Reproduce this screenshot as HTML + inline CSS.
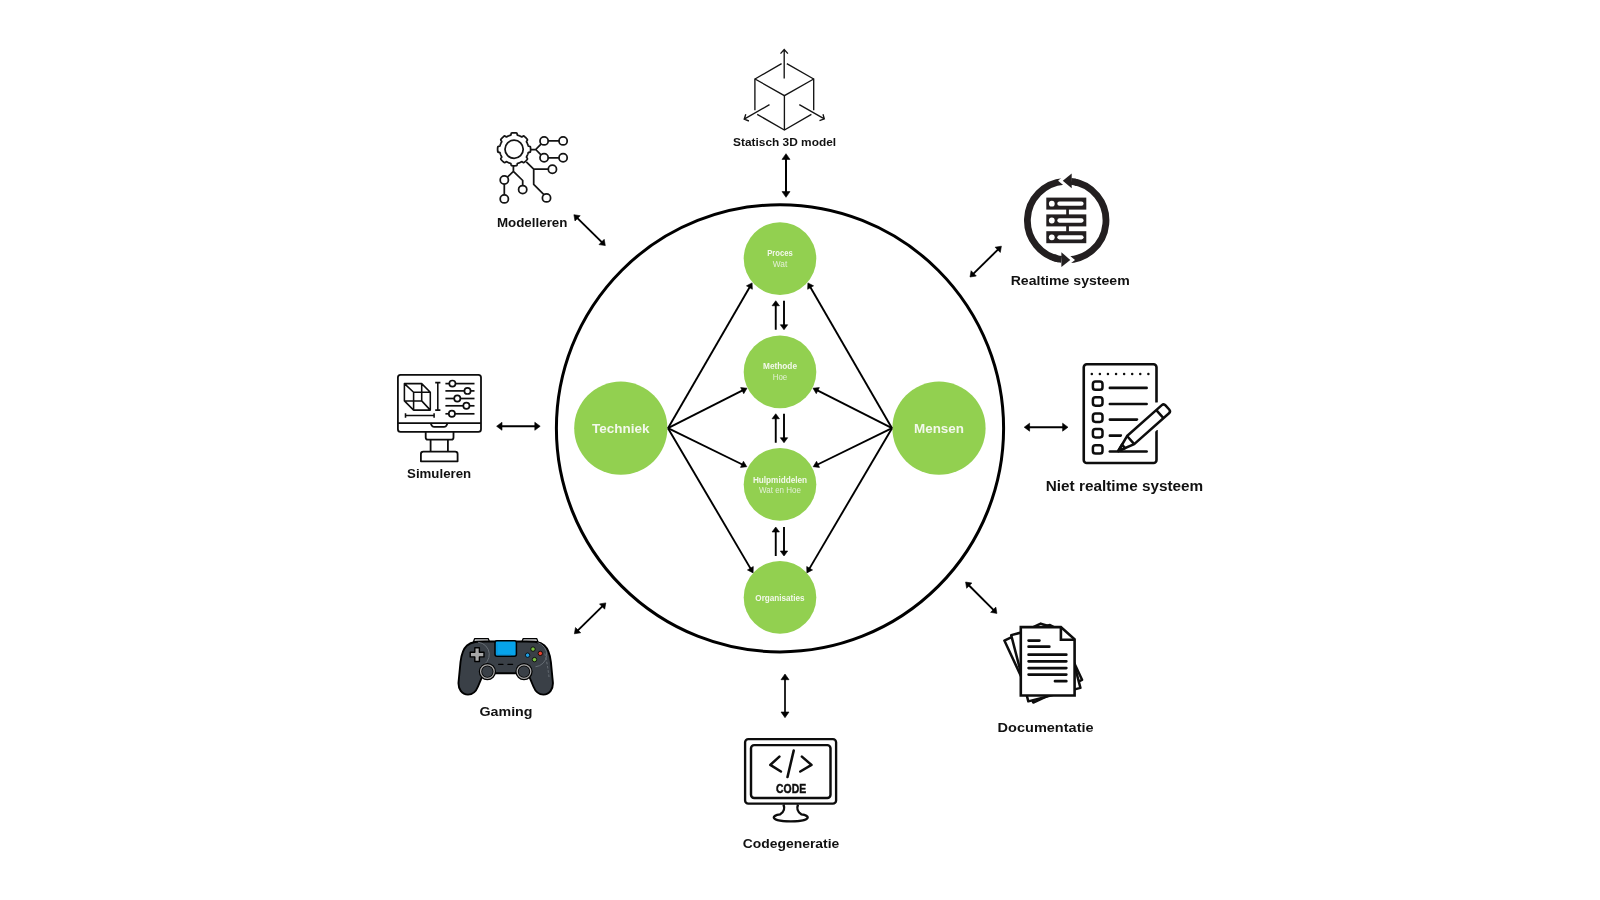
<!DOCTYPE html>
<html><head><meta charset="utf-8"><style>
html,body{margin:0;padding:0;background:#fff;width:1600px;height:900px;overflow:hidden}
svg{display:block;will-change:transform}
text{font-family:"Liberation Sans", sans-serif}
</style></head><body>
<svg width="1600" height="900" viewBox="0 0 1600 900">
<rect width="1600" height="900" fill="#fff"/>
<circle cx="780" cy="428.3" r="223.6" fill="none" stroke="#000" stroke-width="3"/><circle cx="780" cy="258.6" r="36.3" fill="#92d050"/><circle cx="780" cy="371.9" r="36.3" fill="#92d050"/><circle cx="780" cy="484.4" r="36.3" fill="#92d050"/><circle cx="780" cy="597.4" r="36.3" fill="#92d050"/><circle cx="620.8" cy="428.2" r="46.6" fill="#92d050"/><circle cx="939" cy="428.2" r="46.6" fill="#92d050"/><line x1="668.00" y1="428.20" x2="749.90" y2="286.71" stroke="#000" stroke-width="1.9"/><polygon points="752.10,282.90 752.34,289.28 746.45,285.87" fill="#000" stroke="#000" stroke-width="0.6" stroke-linejoin="round"/><line x1="892.00" y1="428.20" x2="810.10" y2="286.71" stroke="#000" stroke-width="1.9"/><polygon points="807.90,282.90 813.55,285.87 807.66,289.28" fill="#000" stroke="#000" stroke-width="0.6" stroke-linejoin="round"/><line x1="668.00" y1="428.20" x2="743.07" y2="390.19" stroke="#000" stroke-width="1.9"/><polygon points="747.00,388.20 743.72,393.67 740.65,387.61" fill="#000" stroke="#000" stroke-width="0.6" stroke-linejoin="round"/><line x1="892.00" y1="428.20" x2="816.93" y2="390.19" stroke="#000" stroke-width="1.9"/><polygon points="813.00,388.20 819.35,387.61 816.28,393.67" fill="#000" stroke="#000" stroke-width="0.6" stroke-linejoin="round"/><line x1="668.00" y1="428.20" x2="742.85" y2="464.77" stroke="#000" stroke-width="1.9"/><polygon points="746.80,466.70 740.46,467.38 743.44,461.27" fill="#000" stroke="#000" stroke-width="0.6" stroke-linejoin="round"/><line x1="892.00" y1="428.20" x2="817.15" y2="464.77" stroke="#000" stroke-width="1.9"/><polygon points="813.20,466.70 816.56,461.27 819.54,467.38" fill="#000" stroke="#000" stroke-width="0.6" stroke-linejoin="round"/><line x1="668.00" y1="428.20" x2="750.87" y2="569.11" stroke="#000" stroke-width="1.9"/><polygon points="753.10,572.90 747.43,569.97 753.29,566.52" fill="#000" stroke="#000" stroke-width="0.6" stroke-linejoin="round"/><line x1="892.00" y1="428.20" x2="809.13" y2="569.11" stroke="#000" stroke-width="1.9"/><polygon points="806.90,572.90 806.71,566.52 812.57,569.97" fill="#000" stroke="#000" stroke-width="0.6" stroke-linejoin="round"/><line x1="775.75" y1="329.75" x2="775.75" y2="304.75" stroke="#000" stroke-width="1.9"/><polygon points="775.75,300.75 779.45,305.75 772.05,305.75" fill="#000" stroke="#000" stroke-width="0.6" stroke-linejoin="round"/><line x1="784.00" y1="300.75" x2="784.00" y2="325.75" stroke="#000" stroke-width="1.9"/><polygon points="784.00,329.75 780.30,324.75 787.70,324.75" fill="#000" stroke="#000" stroke-width="0.6" stroke-linejoin="round"/><line x1="775.75" y1="442.75" x2="775.75" y2="417.75" stroke="#000" stroke-width="1.9"/><polygon points="775.75,413.75 779.45,418.75 772.05,418.75" fill="#000" stroke="#000" stroke-width="0.6" stroke-linejoin="round"/><line x1="784.00" y1="413.75" x2="784.00" y2="438.75" stroke="#000" stroke-width="1.9"/><polygon points="784.00,442.75 780.30,437.75 787.70,437.75" fill="#000" stroke="#000" stroke-width="0.6" stroke-linejoin="round"/><line x1="775.75" y1="556.00" x2="775.75" y2="531.00" stroke="#000" stroke-width="1.9"/><polygon points="775.75,527.00 779.45,532.00 772.05,532.00" fill="#000" stroke="#000" stroke-width="0.6" stroke-linejoin="round"/><line x1="784.00" y1="527.00" x2="784.00" y2="552.00" stroke="#000" stroke-width="1.9"/><polygon points="784.00,556.00 780.30,551.00 787.70,551.00" fill="#000" stroke="#000" stroke-width="0.6" stroke-linejoin="round"/><line x1="786.00" y1="158.40" x2="786.00" y2="192.60" stroke="#000" stroke-width="2"/><polygon points="786.00,197.30 782.00,191.60 790.00,191.60" fill="#000" stroke="#000" stroke-width="0.6" stroke-linejoin="round"/><polygon points="786.00,153.70 782.00,159.40 790.00,159.40" fill="#000" stroke="#000" stroke-width="0.6" stroke-linejoin="round"/><line x1="785.00" y1="678.70" x2="785.00" y2="713.00" stroke="#000" stroke-width="1.7"/><polygon points="785.00,717.70 781.00,712.00 789.00,712.00" fill="#000" stroke="#000" stroke-width="0.6" stroke-linejoin="round"/><polygon points="785.00,674.00 781.00,679.70 789.00,679.70" fill="#000" stroke="#000" stroke-width="0.6" stroke-linejoin="round"/><line x1="501.00" y1="426.25" x2="535.80" y2="426.25" stroke="#000" stroke-width="2.2"/><polygon points="540.20,426.25 534.80,430.25 534.80,422.25" fill="#000" stroke="#000" stroke-width="0.6" stroke-linejoin="round"/><polygon points="496.60,426.25 502.00,430.25 502.00,422.25" fill="#000" stroke="#000" stroke-width="0.6" stroke-linejoin="round"/><line x1="1028.60" y1="427.20" x2="1063.60" y2="427.20" stroke="#000" stroke-width="2"/><polygon points="1068.00,427.20 1062.60,431.20 1062.60,423.20" fill="#000" stroke="#000" stroke-width="0.6" stroke-linejoin="round"/><polygon points="1024.20,427.20 1029.60,431.20 1029.60,423.20" fill="#000" stroke="#000" stroke-width="0.6" stroke-linejoin="round"/><line x1="576.89" y1="217.65" x2="602.31" y2="242.65" stroke="#000" stroke-width="1.9"/><polygon points="605.30,245.60 599.00,244.59 604.19,239.32" fill="#000" stroke="#000" stroke-width="0.6" stroke-linejoin="round"/><polygon points="573.90,214.70 575.01,220.98 580.20,215.71" fill="#000" stroke="#000" stroke-width="0.6" stroke-linejoin="round"/><line x1="998.40" y1="249.14" x2="973.00" y2="274.06" stroke="#000" stroke-width="1.9"/><polygon points="970.00,277.00 971.12,270.72 976.30,276.00" fill="#000" stroke="#000" stroke-width="0.6" stroke-linejoin="round"/><polygon points="1001.40,246.20 995.10,247.20 1000.28,252.48" fill="#000" stroke="#000" stroke-width="0.6" stroke-linejoin="round"/><line x1="602.81" y1="605.85" x2="577.39" y2="630.85" stroke="#000" stroke-width="1.9"/><polygon points="574.40,633.80 575.51,627.52 580.70,632.79" fill="#000" stroke="#000" stroke-width="0.6" stroke-linejoin="round"/><polygon points="605.80,602.90 599.50,603.91 604.69,609.18" fill="#000" stroke="#000" stroke-width="0.6" stroke-linejoin="round"/><line x1="968.57" y1="584.97" x2="993.93" y2="610.43" stroke="#000" stroke-width="1.9"/><polygon points="996.90,613.40 990.61,612.33 995.85,607.11" fill="#000" stroke="#000" stroke-width="0.6" stroke-linejoin="round"/><polygon points="965.60,582.00 966.65,588.29 971.89,583.07" fill="#000" stroke="#000" stroke-width="0.6" stroke-linejoin="round"/><text x="620.8" y="433.4" font-size="13.6" font-weight="bold" fill="#f3f8ec" text-anchor="middle" textLength="57.5" lengthAdjust="spacingAndGlyphs">Techniek</text><text x="939" y="433.4" font-size="13.6" font-weight="bold" fill="#f3f8ec" text-anchor="middle" textLength="50" lengthAdjust="spacingAndGlyphs">Mensen</text><text x="780" y="255.8" font-size="8.2" font-weight="bold" fill="#f3f8ec" text-anchor="middle" textLength="25.5" lengthAdjust="spacingAndGlyphs">Proces</text><text x="780" y="266.9" font-size="8.2" font-weight="normal" fill="#e3f0d6" text-anchor="middle" textLength="14.5" lengthAdjust="spacingAndGlyphs">Wat</text><text x="780" y="369.2" font-size="8.2" font-weight="bold" fill="#f3f8ec" text-anchor="middle" textLength="34" lengthAdjust="spacingAndGlyphs">Methode</text><text x="780" y="379.9" font-size="8.2" font-weight="normal" fill="#e3f0d6" text-anchor="middle" textLength="14.5" lengthAdjust="spacingAndGlyphs">Hoe</text><text x="780" y="482.7" font-size="8.2" font-weight="bold" fill="#f3f8ec" text-anchor="middle" textLength="54.2" lengthAdjust="spacingAndGlyphs">Hulpmiddelen</text><text x="780" y="493.2" font-size="8.2" font-weight="normal" fill="#e3f0d6" text-anchor="middle" textLength="42" lengthAdjust="spacingAndGlyphs">Wat en Hoe</text><text x="780" y="600.7" font-size="8.2" font-weight="bold" fill="#f3f8ec" text-anchor="middle" textLength="49.3" lengthAdjust="spacingAndGlyphs">Organisaties</text><text x="784.6" y="146.1" font-size="11.8" font-weight="bold" fill="#111" text-anchor="middle" textLength="103" lengthAdjust="spacingAndGlyphs">Statisch 3D model</text><text x="532.2" y="227" font-size="12.4" font-weight="bold" fill="#111" text-anchor="middle" textLength="70.5" lengthAdjust="spacingAndGlyphs">Modelleren</text><text x="1070.2" y="284.8" font-size="13.3" font-weight="bold" fill="#111" text-anchor="middle" textLength="119" lengthAdjust="spacingAndGlyphs">Realtime systeem</text><text x="1124.5" y="490.6" font-size="14.3" font-weight="bold" fill="#111" text-anchor="middle" textLength="157.5" lengthAdjust="spacingAndGlyphs">Niet realtime systeem</text><text x="439.1" y="478" font-size="12.8" font-weight="bold" fill="#111" text-anchor="middle" textLength="64" lengthAdjust="spacingAndGlyphs">Simuleren</text><text x="506" y="716.2" font-size="13" font-weight="bold" fill="#111" text-anchor="middle" textLength="53" lengthAdjust="spacingAndGlyphs">Gaming</text><text x="791" y="847.8" font-size="13" font-weight="bold" fill="#111" text-anchor="middle" textLength="96.5" lengthAdjust="spacingAndGlyphs">Codegeneratie</text><text x="1045.6" y="732.2" font-size="13.4" font-weight="bold" fill="#111" text-anchor="middle" textLength="96" lengthAdjust="spacingAndGlyphs">Documentatie</text>
<g fill="none" stroke="#141414" stroke-width="1.35" stroke-linecap="butt" stroke-linejoin="miter"><path d="M784.2 78.6V49.6M780.5 53.6L784.2 49.6L787.9 53.6"/><path d="M755 79L781.6 63.6M786.8 63.6L813.7 79"/><path d="M755 79L784.4 95.6L813.7 79"/><path d="M754.9 78.4V110.3M813.7 78.4V110.3"/><path d="M784.4 95.6V130"/><path d="M757.2 114.4L784.4 130L811.4 114.4"/><path d="M769.5 104.6L744.2 119.2M745.8 114.3L744.2 119.2L748.9 121"/><path d="M799.3 104.6L824.3 118.9M823 114.3L824.3 118.9L819.5 120.7"/></g><g fill="none" stroke="#141414" stroke-width="1.75" stroke-linejoin="round"><path d="M530.60 149.30 L530.60 149.59 L530.59 149.88 L530.58 150.16 L530.56 150.45 L530.54 150.74 L530.51 151.02 L530.47 151.31 L530.43 151.59 L530.35 151.87 L530.13 152.13 L529.52 152.30 L528.72 152.41 L528.33 152.59 L528.19 152.81 L528.11 153.05 L528.04 153.30 L527.97 153.54 L527.89 153.78 L527.81 154.02 L527.73 154.26 L527.64 154.50 L527.54 154.73 L527.45 154.97 L527.35 155.20 L527.24 155.43 L527.13 155.66 L527.02 155.88 L526.90 156.11 L526.78 156.33 L526.66 156.55 L526.55 156.78 L526.48 157.04 L526.63 157.44 L527.12 158.08 L527.43 158.64 L527.41 158.97 L527.27 159.22 L527.10 159.46 L526.92 159.68 L526.74 159.91 L526.55 160.12 L526.36 160.34 L526.17 160.55 L525.97 160.76 L525.77 160.97 L525.56 161.17 L525.35 161.37 L525.14 161.56 L524.92 161.75 L524.71 161.94 L524.48 162.12 L524.26 162.30 L524.02 162.47 L523.77 162.61 L523.44 162.63 L522.88 162.32 L522.24 161.83 L521.84 161.68 L521.58 161.75 L521.35 161.86 L521.13 161.98 L520.91 162.10 L520.68 162.22 L520.46 162.33 L520.23 162.44 L520.00 162.55 L519.77 162.65 L519.53 162.74 L519.30 162.84 L519.06 162.93 L518.82 163.01 L518.58 163.09 L518.34 163.17 L518.10 163.24 L517.85 163.31 L517.61 163.39 L517.39 163.53 L517.21 163.92 L517.10 164.72 L516.93 165.33 L516.67 165.55 L516.39 165.63 L516.11 165.67 L515.82 165.71 L515.54 165.74 L515.25 165.76 L514.96 165.78 L514.68 165.79 L514.39 165.80 L514.10 165.80 L513.81 165.80 L513.52 165.79 L513.24 165.78 L512.95 165.76 L512.66 165.74 L512.38 165.71 L512.09 165.67 L511.81 165.63 L511.53 165.55 L511.27 165.33 L511.10 164.72 L510.99 163.92 L510.81 163.53 L510.59 163.39 L510.35 163.31 L510.10 163.24 L509.86 163.17 L509.62 163.09 L509.38 163.01 L509.14 162.93 L508.90 162.84 L508.67 162.74 L508.43 162.65 L508.20 162.55 L507.97 162.44 L507.74 162.33 L507.52 162.22 L507.29 162.10 L507.07 161.98 L506.85 161.86 L506.62 161.75 L506.36 161.68 L505.96 161.83 L505.32 162.32 L504.76 162.63 L504.43 162.61 L504.18 162.47 L503.94 162.30 L503.72 162.12 L503.49 161.94 L503.28 161.75 L503.06 161.56 L502.85 161.37 L502.64 161.17 L502.43 160.97 L502.23 160.76 L502.03 160.55 L501.84 160.34 L501.65 160.12 L501.46 159.91 L501.28 159.68 L501.10 159.46 L500.93 159.22 L500.79 158.97 L500.77 158.64 L501.08 158.08 L501.57 157.44 L501.72 157.04 L501.65 156.78 L501.54 156.55 L501.42 156.33 L501.30 156.11 L501.18 155.88 L501.07 155.66 L500.96 155.43 L500.85 155.20 L500.75 154.97 L500.66 154.73 L500.56 154.50 L500.47 154.26 L500.39 154.02 L500.31 153.78 L500.23 153.54 L500.16 153.30 L500.09 153.05 L500.01 152.81 L499.87 152.59 L499.48 152.41 L498.68 152.30 L498.07 152.13 L497.85 151.87 L497.77 151.59 L497.73 151.31 L497.69 151.02 L497.66 150.74 L497.64 150.45 L497.62 150.16 L497.61 149.88 L497.60 149.59 L497.60 149.30 L497.60 149.01 L497.61 148.72 L497.62 148.44 L497.64 148.15 L497.66 147.86 L497.69 147.58 L497.73 147.29 L497.77 147.01 L497.85 146.73 L498.07 146.47 L498.68 146.30 L499.48 146.19 L499.87 146.01 L500.01 145.79 L500.09 145.55 L500.16 145.30 L500.23 145.06 L500.31 144.82 L500.39 144.58 L500.47 144.34 L500.56 144.10 L500.66 143.87 L500.75 143.63 L500.85 143.40 L500.96 143.17 L501.07 142.94 L501.18 142.72 L501.30 142.49 L501.42 142.27 L501.54 142.05 L501.65 141.82 L501.72 141.56 L501.57 141.16 L501.08 140.52 L500.77 139.96 L500.79 139.63 L500.93 139.38 L501.10 139.14 L501.28 138.92 L501.46 138.69 L501.65 138.48 L501.84 138.26 L502.03 138.05 L502.23 137.84 L502.43 137.63 L502.64 137.43 L502.85 137.23 L503.06 137.04 L503.28 136.85 L503.49 136.66 L503.72 136.48 L503.94 136.30 L504.18 136.13 L504.43 135.99 L504.76 135.97 L505.32 136.28 L505.96 136.77 L506.36 136.92 L506.62 136.85 L506.85 136.74 L507.07 136.62 L507.29 136.50 L507.52 136.38 L507.74 136.27 L507.97 136.16 L508.20 136.05 L508.43 135.95 L508.67 135.86 L508.90 135.76 L509.14 135.67 L509.38 135.59 L509.62 135.51 L509.86 135.43 L510.10 135.36 L510.35 135.29 L510.59 135.21 L510.81 135.07 L510.99 134.68 L511.10 133.88 L511.27 133.27 L511.53 133.05 L511.81 132.97 L512.09 132.93 L512.38 132.89 L512.66 132.86 L512.95 132.84 L513.24 132.82 L513.52 132.81 L513.81 132.80 L514.10 132.80 L514.39 132.80 L514.68 132.81 L514.96 132.82 L515.25 132.84 L515.54 132.86 L515.82 132.89 L516.11 132.93 L516.39 132.97 L516.67 133.05 L516.93 133.27 L517.10 133.88 L517.21 134.68 L517.39 135.07 L517.61 135.21 L517.85 135.29 L518.10 135.36 L518.34 135.43 L518.58 135.51 L518.82 135.59 L519.06 135.67 L519.30 135.76 L519.53 135.86 L519.77 135.95 L520.00 136.05 L520.23 136.16 L520.46 136.27 L520.68 136.38 L520.91 136.50 L521.13 136.62 L521.35 136.74 L521.58 136.85 L521.84 136.92 L522.24 136.77 L522.88 136.28 L523.44 135.97 L523.77 135.99 L524.02 136.13 L524.26 136.30 L524.48 136.48 L524.71 136.66 L524.92 136.85 L525.14 137.04 L525.35 137.23 L525.56 137.43 L525.77 137.63 L525.97 137.84 L526.17 138.05 L526.36 138.26 L526.55 138.48 L526.74 138.69 L526.92 138.92 L527.10 139.14 L527.27 139.38 L527.41 139.63 L527.43 139.96 L527.12 140.52 L526.63 141.16 L526.48 141.56 L526.55 141.82 L526.66 142.05 L526.78 142.27 L526.90 142.49 L527.02 142.72 L527.13 142.94 L527.24 143.17 L527.35 143.40 L527.45 143.63 L527.54 143.87 L527.64 144.10 L527.73 144.34 L527.81 144.58 L527.89 144.82 L527.97 145.06 L528.04 145.30 L528.11 145.55 L528.19 145.79 L528.33 146.01 L528.72 146.19 L529.52 146.30 L530.13 146.47 L530.35 146.73 L530.43 147.01 L530.47 147.29 L530.51 147.58 L530.54 147.86 L530.56 148.15 L530.58 148.44 L530.59 148.72 L530.60 149.01Z"/><circle cx="514.1" cy="149.3" r="9.1"/><circle cx="544.1" cy="140.9" r="4.1"/><circle cx="563.1" cy="140.9" r="4.1"/><circle cx="544.1" cy="157.8" r="4.1"/><circle cx="563.1" cy="157.8" r="4.1"/><circle cx="552.4" cy="169.3" r="4.1"/><circle cx="504.3" cy="180" r="4.1"/><circle cx="522.7" cy="189.6" r="4.1"/><circle cx="504.3" cy="198.9" r="4.1"/><circle cx="546.5" cy="197.9" r="4.1"/><path d="M530.5 149.5H535.7L541 144.1M535.7 149.5L541 154.9"/><path d="M547.9 140.9H559.3M547.9 157.8H559.3"/><path d="M526.3 161.8L533.7 169.2H548.6M533.7 169.2V184.4L543.9 194.6"/><path d="M513.4 166V171.3L507.4 177.2M513.4 171.3L522.7 180.5V185.8"/><path d="M504.3 183.8V195.1"/></g><g stroke="#231f20" fill="none" stroke-width="6.8"><path d="M1063.96 181.30A39.3 39.3 0 0 0 1060.55 259.32"/><path d="M1071.15 181.45A39.3 39.3 0 0 1 1063.96 259.70"/></g><polygon points="1062.8,180.7 1071.7,173.5 1071.7,188.2" fill="#231f20" stroke="#fff" stroke-width="6" stroke-linejoin="miter" stroke-miterlimit="4"/><polygon points="1070.3,259.9 1061.4,252.2 1061.4,266.9" fill="#231f20" stroke="#fff" stroke-width="6" stroke-linejoin="miter" stroke-miterlimit="4"/><g stroke="#231f20" fill="none" stroke-width="6.8"><path d="M1071.15 181.45A39.3 39.3 0 0 1 1077.53 182.72"/><path d="M1053.26 257.43A39.3 39.3 0 0 0 1061.50 259.45"/></g><polygon points="1062.8,180.7 1071.7,173.5 1071.7,188.2" fill="#231f20"/><polygon points="1070.3,259.9 1061.4,252.2 1061.4,266.9" fill="#231f20"/><rect x="1046.3" y="197.6" width="40" height="12" fill="#231f20"/><circle cx="1051.8" cy="203.7" r="2.9" fill="#fff"/><rect x="1057.3" y="201.54999999999998" width="26.3" height="4.3" rx="2.15" fill="#fff"/><rect x="1046.3" y="214.4" width="40" height="12" fill="#231f20"/><circle cx="1051.8" cy="220.5" r="2.9" fill="#fff"/><rect x="1057.3" y="218.35" width="26.3" height="4.3" rx="2.15" fill="#fff"/><rect x="1046.3" y="231.2" width="40" height="12" fill="#231f20"/><circle cx="1051.8" cy="237.29999999999998" r="2.9" fill="#fff"/><rect x="1057.3" y="235.14999999999998" width="26.3" height="4.3" rx="2.15" fill="#fff"/><rect x="1066.2" y="209" width="2.7" height="6" fill="#231f20"/><rect x="1066.2" y="225.8" width="2.7" height="6" fill="#231f20"/><g fill="none" stroke="#0d0d0d" stroke-width="2.6" stroke-linecap="round" stroke-linejoin="round"><path d="M1156.5 430V460A3 3 0 0 1 1153.5 463H1086.75A3 3 0 0 1 1083.75 460V367.25A3 3 0 0 1 1086.75 364.25H1153.5A3 3 0 0 1 1156.5 367.25V402.5" stroke-linecap="butt"/><circle cx="1091.80" cy="373.9" r="1.25" fill="#0d0d0d" stroke="none"/><circle cx="1099.88" cy="373.9" r="1.25" fill="#0d0d0d" stroke="none"/><circle cx="1107.96" cy="373.9" r="1.25" fill="#0d0d0d" stroke="none"/><circle cx="1116.04" cy="373.9" r="1.25" fill="#0d0d0d" stroke="none"/><circle cx="1124.12" cy="373.9" r="1.25" fill="#0d0d0d" stroke="none"/><circle cx="1132.20" cy="373.9" r="1.25" fill="#0d0d0d" stroke="none"/><circle cx="1140.28" cy="373.9" r="1.25" fill="#0d0d0d" stroke="none"/><circle cx="1148.36" cy="373.9" r="1.25" fill="#0d0d0d" stroke="none"/><rect x="1092.9" y="381.40000000000003" width="9.6" height="8.4" rx="2.6" stroke-width="2.5"/><rect x="1092.9" y="397.3" width="9.6" height="8.4" rx="2.6" stroke-width="2.5"/><rect x="1092.9" y="413.5" width="9.6" height="8.4" rx="2.6" stroke-width="2.5"/><rect x="1092.9" y="429.0" width="9.6" height="8.4" rx="2.6" stroke-width="2.5"/><rect x="1092.9" y="445.2" width="9.6" height="8.4" rx="2.6" stroke-width="2.5"/><path d="M1109.9 387.9H1146.6M1109.9 404H1146.6M1109.9 419.6H1137M1109.9 435.7H1121" stroke-width="2.7"/></g><g transform="translate(1118.3 451) rotate(-41.6)"><path d="M0 0L16.5 -5.4H65.5V5.4H16.5Z" fill="#fff" stroke="#fff" stroke-width="9" stroke-linejoin="round"/></g><path d="M1109.9 451.5H1146.6" stroke="#0d0d0d" stroke-width="2.7" stroke-linecap="round"/><g transform="translate(1118.3 451) rotate(-41.6)" fill="none" stroke="#0d0d0d" stroke-width="2.5" stroke-linejoin="round"><path d="M0 0L16.5 -5.4H63A2.6 2.6 0 0 1 65.6 -2.8V2.8A2.6 2.6 0 0 1 63 5.4H16.5Z" fill="#fff"/><path d="M16.5 -5.4V5.4M55.6 -5.4V5.4"/><path d="M0 0L7 -2.3V2.3Z" fill="{K}"/></g><g transform="translate(1043.2 660.2) rotate(-25)"><path d="M-26.9 -34.2H13.2L26.9 -21.9V34.2H-26.9Z" fill="#fff" stroke="#0d0d0d" stroke-width="2.5" stroke-linejoin="round"/></g><g transform="translate(1045.8 661.5) rotate(-14.5)"><path d="M-26.9 -34.2H13.2L26.9 -21.9V34.2H-26.9Z" fill="#fff" stroke="#0d0d0d" stroke-width="2.5" stroke-linejoin="round"/></g><g fill="#fff" stroke="#0d0d0d" stroke-width="2.6" stroke-linejoin="miter"><path d="M1020.8 627.1H1060.9L1074.6 639.4V695.5H1020.8Z"/><path d="M1060.9 627.1V639.8H1074.6" fill="none"/></g><g stroke="#0d0d0d" stroke-width="2.75" stroke-linecap="round"><path d="M1028.6 640.6H1039.4M1028.6 646.7H1049.3M1028.6 654.7H1066.3M1028.6 661.3H1066.3M1028.6 668H1066.3M1028.6 674.6H1066.3M1055 681.2H1066.3"/></g><g fill="none" stroke="#0d0d0d" stroke-width="2.35"><rect x="745.1" y="739.1" width="91" height="64.6" rx="3.2"/><rect x="751" y="745.1" width="79.5" height="52.9" rx="3.2" stroke-width="2.45"/><path d="M783.5 804.5C784.8 808 784.6 811.5 780.2 814.3C774.5 815 773.8 817 773.8 817.2C773.8 820 781 821.4 790.75 821.4C800.5 821.4 807.7 820 807.7 817.2C807.7 817 807 815 801.3 814.3C796.9 811.5 796.7 808 798 804.5"/></g><g fill="none" stroke="#0d0d0d" stroke-width="2.55" stroke-linecap="round" stroke-linejoin="round"><path d="M779.4 756.6L770.3 764.9L780.9 771.5M801.9 756.6L811.5 764.9L800.3 771.5M793.7 750.6L787.5 777"/></g><text x="791.1" y="792.5" font-size="12.2" font-weight="bold" fill="#0d0d0d" stroke="#0d0d0d" stroke-width="0.45" text-anchor="middle" textLength="30" lengthAdjust="spacingAndGlyphs">CODE</text><g fill="none" stroke="#0d0d0d" stroke-width="1.8" stroke-linejoin="round"><rect x="397.9" y="374.8" width="83.1" height="57.1" rx="2.6"/><path d="M397.9 423.2H481"/><path d="M430.6 423.2L431.8 425.6Q432.4 426.8 434 426.8H444.2Q445.8 426.8 446.4 425.6L447.6 423.2"/><path d="M425.7 431.9V437.5Q425.7 439.7 427.9 439.7H451.3Q453.5 439.7 453.5 437.5V431.9"/><path d="M430.6 439.7V451.6M447.9 439.7V451.6"/><path d="M420.9 461.3V454Q420.9 451.6 423.3 451.6H455.2Q457.6 451.6 457.6 454V461.3Z"/></g><g fill="none" stroke="#0d0d0d" stroke-width="1.55" stroke-linejoin="round"><path d="M404.4 383.6H421.7V400.9H404.4Z M413.6 392.3H430.3V410.1H413.6Z M404.4 383.6L413.6 392.3M421.7 383.6L430.3 392.3M421.7 400.9L430.3 410.1M404.4 400.9L413.6 410.1"/><path d="M437.8 382.6V410.1M435.2 382.6H440.4M435.2 410.1H440.4"/><path d="M405.5 415.5H434.1M405.5 413.2V417.8M434.1 413.2V417.8"/></g><g stroke="#0d0d0d" stroke-width="1.7"><path d="M445.4 383.6H474.5"/><circle cx="452.4" cy="383.6" r="3.1" fill="#fff"/><path d="M445.4 390.9H474.5"/><circle cx="467.5" cy="390.9" r="3.1" fill="#fff"/><path d="M445.4 398.5H474.5"/><circle cx="457.3" cy="398.5" r="3.1" fill="#fff"/><path d="M445.4 405.8H474.5"/><circle cx="466.4" cy="405.8" r="3.1" fill="#fff"/><path d="M445.4 413.8H474.5"/><circle cx="451.9" cy="413.8" r="3.1" fill="#fff"/></g><path d="M473.40 642L474.60 638.6H488.20L489.60 642Z" fill="#c9cacc" stroke="#000" stroke-width="1.3" stroke-linejoin="round"/><path d="M538.00 642L536.80 638.6H523.20L521.80 642Z" fill="#c9cacc" stroke="#000" stroke-width="1.3" stroke-linejoin="round"/><path d="M505.70 641.50H487.00C479.00 641.50 472.00 641.20 467.00 645.50C462.50 649.50 461.20 656.00 460.50 662.00L458.60 681.50C457.80 689.00 462.00 694.60 468.00 694.60C473.00 694.60 476.00 691.50 478.00 686.50L482.00 677.00L495.00 673.30H505.70H516.40L529.40 677L533.40 686.5C535.40 691.5 538.40 694.6 543.40 694.6C549.40 694.6 553.60 689 552.80 681.5L550.90 662C550.20 656 548.90 649.5 544.40 645.5C539.40 641.2 532.40 641.5 524.40 641.5Z" fill="#3a4047" stroke="#000" stroke-width="1.9" stroke-linejoin="round"/><path d="M478.07 642.25A12.3 12.3 0 0 1 480.18 666.38" fill="none" stroke="#666d74" stroke-width="1"/><path d="M537.58 642.62A12.3 12.3 0 0 1 535.47 666.75" fill="none" stroke="#666d74" stroke-width="1"/><path d="M544.8 653.5Q547.5 664 549 677" fill="none" stroke="#6d747b" stroke-width="0.9" stroke-dasharray="2.5 1.8"/><rect x="495.0" y="640.7" width="21.4" height="15.6" rx="2" fill="#06a3ea" stroke="#000" stroke-width="1.5"/><path d="M497 643.5V654.6H511" fill="none" stroke="#0b8fd3" stroke-width="1.2" opacity="0.8"/><path d="M474.8 647.7H479.40000000000003V652.3000000000001H484.0V656.9H479.40000000000003V661.5H474.8V656.9H470.20000000000005V652.3000000000001H474.8Z" fill="#a9a9a9" stroke="#000" stroke-width="1.4" stroke-linejoin="round"/><circle cx="533.0" cy="649.1" r="2.2" fill="#7cc142" stroke="#000" stroke-width="0.8"/><circle cx="540.3" cy="653.4" r="2.2" fill="#e8412c" stroke="#000" stroke-width="0.8"/><circle cx="527.6" cy="655.2" r="2.2" fill="#1e9ee3" stroke="#000" stroke-width="0.8"/><circle cx="534.5" cy="659.6" r="2.2" fill="#7cc142" stroke="#000" stroke-width="0.8"/><path d="M498.6 664.3H503M507.9 664.3H512.6" stroke="#000" stroke-width="1.3" stroke-linecap="round"/><circle cx="487.4" cy="671.6" r="8.6" fill="#000"/><circle cx="487.4" cy="671.6" r="6.8" fill="#000" stroke="#a8a8a8" stroke-width="1.3"/><circle cx="487.4" cy="671.6" r="5.3" fill="#3a4047"/><circle cx="524.0" cy="671.6" r="8.6" fill="#000"/><circle cx="524.0" cy="671.6" r="6.8" fill="#000" stroke="#a8a8a8" stroke-width="1.3"/><circle cx="524.0" cy="671.6" r="5.3" fill="#3a4047"/>
</svg>
</body></html>
